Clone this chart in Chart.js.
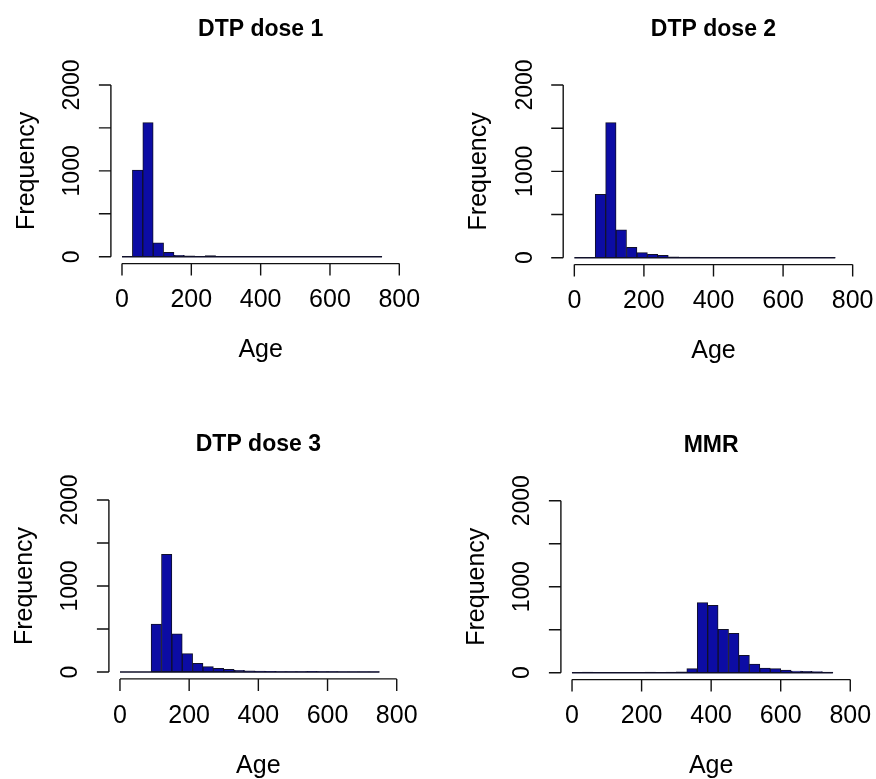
<!DOCTYPE html>
<html><head><meta charset="utf-8">
<script src="https://cdn.jsdelivr.net/npm/chart.js@4/dist/chart.umd.min.js"></script>
<style>
body{margin:0;background:#fff;width:876px;height:779px;position:relative;overflow:hidden}
canvas{position:absolute}
</style></head>
<body>
<canvas id="c0" width="438" height="390" style="left:0;top:0"></canvas>
<canvas id="c1" width="438" height="390" style="left:438px;top:0"></canvas>
<canvas id="c2" width="438" height="389" style="left:0;top:390px"></canvas>
<canvas id="c3" width="438" height="389" style="left:438px;top:390px"></canvas>
<script>
// Bin starts (Age), bin width 30
const binStarts = [0,30,60,90,120,150,180,210,240,270,300,330,360,390,420,450,480,510,540,570,600,630,660,690,720];
const binWidth = 30;
const titles = ['DTP dose 1','DTP dose 2','DTP dose 3','MMR'];
const dtp1 = [0,1010,1562,163,51,15,10,6,12,6,4,3,3,5,4,3,6,3,3,2,2,2,2,1,1];
const dtp2 = [0,0,735,1564,324,120,58,38,28,10,8,6,5,5,4,4,3,5,3,3,2,2,2,3,2];
const dtp3 = [0,0,0,558,1368,445,213,101,62,43,31,20,15,10,8,6,6,5,8,5,4,3,3,3,2];
const mmr  = [2,8,3,2,2,1,2,6,2,6,10,47,814,784,505,458,202,101,55,47,30,20,15,12,8];
const xTicks = [0,200,400,600,800];
const yTicks = [0,500,1000,1500,2000];
const yTickLabels = ['0','','1000','','2000'];
const xLabel = 'Age';
const yLabel = 'Frequency';

const seriesList = [dtp1, dtp2, dtp3, mmr];
const paddings = [
  {left:110.9, right:27.6, top:78.1, bottom:126.4},
  {left:125.2, right:12.2, top:78.1, bottom:125.4},
  {left:108.9, right:30.2, top:103.1, bottom:100.1},
  {left:122.9, right:14.6, top:103.8, bottom:99.4}
];

const FONT = '"Liberation Sans", Arial, Helvetica, sans-serif';

const rAxes = {
  id: 'rAxes',
  afterDatasetsDraw(chart, args, opts) {
    const ctx = chart.ctx, xs = chart.scales.x, ys = chart.scales.y, ca = chart.chartArea;
    ctx.save();
    // baseline of histogram (zero-height bins)
    const y0 = ys.getPixelForValue(0);
    ctx.strokeStyle = '#10102a'; ctx.lineWidth = 1.6;
    ctx.beginPath();
    ctx.moveTo(xs.getPixelForValue(binStarts[0]), y0);
    ctx.lineTo(xs.getPixelForValue(binStarts[binStarts.length-1] + binWidth), y0);
    ctx.stroke();

    ctx.strokeStyle = '#111'; ctx.lineWidth = 1.4; ctx.fillStyle = '#000';
    // x axis
    const ya = ca.bottom;
    ctx.beginPath();
    ctx.moveTo(xs.getPixelForValue(xTicks[0]), ya);
    ctx.lineTo(xs.getPixelForValue(xTicks[xTicks.length-1]), ya);
    xTicks.forEach(v => { const p = xs.getPixelForValue(v); ctx.moveTo(p, ya); ctx.lineTo(p, ya + 12); });
    ctx.stroke();
    ctx.font = '25px ' + FONT; ctx.textAlign = 'center'; ctx.textBaseline = 'middle';
    xTicks.forEach(v => ctx.fillText(String(v), xs.getPixelForValue(v), ya + 37));
    ctx.fillText(xLabel, (ca.left + ca.right) / 2, ya + 87);

    // y axis
    const xa = ca.left;
    ctx.beginPath();
    ctx.moveTo(xa, ys.getPixelForValue(yTicks[0]));
    ctx.lineTo(xa, ys.getPixelForValue(yTicks[yTicks.length-1]));
    yTicks.forEach(v => { const p = ys.getPixelForValue(v); ctx.moveTo(xa, p); ctx.lineTo(xa - 12, p); });
    ctx.stroke();
    ctx.font = '23px ' + FONT;
    yTicks.forEach((v, i) => {
      if (!yTickLabels[i]) return;
      ctx.save();
      ctx.translate(xa - 38, ys.getPixelForValue(v));
      ctx.rotate(-Math.PI / 2);
      ctx.fillText(yTickLabels[i], 0, 0);
      ctx.restore();
    });
    ctx.save();
    ctx.font = '25px ' + FONT;
    ctx.translate(xa - 84, (ca.top + ca.bottom) / 2);
    ctx.rotate(-Math.PI / 2);
    ctx.fillText(yLabel, 0, 0);
    ctx.restore();

    // title
    ctx.font = 'bold 23px ' + FONT;
    ctx.textBaseline = 'alphabetic';
    ctx.fillText(opts.title, (ca.left + ca.right) / 2, ca.top - 42);
    ctx.restore();
  }
};

seriesList.forEach((vals, k) => {
  new Chart(document.getElementById('c' + k), {
    type: 'bar',
    data: {
      datasets: [{
        data: binStarts.map((b, i) => ({x: b + binWidth / 2, y: vals[i]})),
        backgroundColor: '#0c0ca4',
        borderColor: '#10102a',
        borderWidth: 1,
        borderSkipped: false,
        barPercentage: 1,
        categoryPercentage: 1
      }]
    },
    options: {
      responsive: false,
      animation: false,
      devicePixelRatio: 1,
      layout: {padding: paddings[k]},
      plugins: {legend: {display: false}, tooltip: {enabled: false}, rAxes: {title: titles[k]}},
      scales: {
        x: {type: 'linear', min: -32, max: 832, display: false, offset: false,
            grid: {offset: false},
            afterBuildTicks: s => { s.ticks = xTicks.map(v => ({value: v})); }},
        y: {type: 'linear', min: -80, max: 2080, display: false,
            afterBuildTicks: s => { s.ticks = yTicks.map(v => ({value: v})); }}
      }
    },
    plugins: [rAxes]
  });
});
</script>
</body></html>
